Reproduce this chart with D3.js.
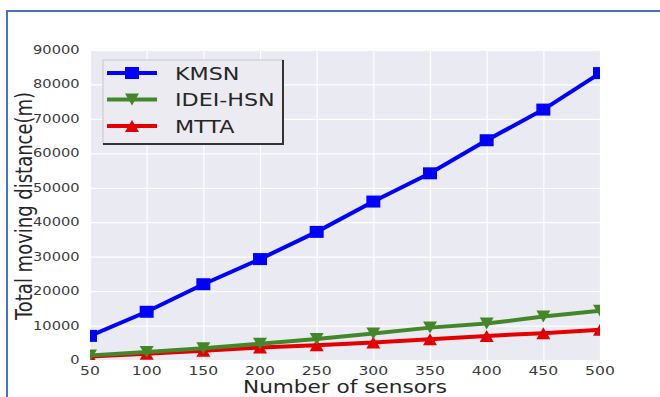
<!DOCTYPE html>
<html>
<head>
<meta charset="utf-8">
<script src="https://cdn.jsdelivr.net/npm/d3@7"></script>
<style>
  html, body { margin: 0; padding: 0; background: #fff; }
  svg { display: block; }
  text { font-family: "DejaVu Sans", sans-serif; }
</style>
</head>
<body>
<svg id="chart" width="660" height="397"></svg>
<script>
// Number of sensors on the x axis
const sensors = [50, 100, 150, 200, 250, 300, 350, 400, 450, 500];
// Total moving distance (m) for each method
const kmsn    = [7000, 14000, 22000, 29300, 37200, 46000, 54200, 63800, 72700, 83300];
const ideiHsn = [1300, 2300, 3400, 4700, 6100, 7700, 9400, 10600, 12600, 14300];
const mtta    = [1000, 1800, 2700, 3600, 4300, 5100, 6000, 7000, 7800, 8800];
const xTicks = [50, 100, 150, 200, 250, 300, 350, 400, 450, 500];
const yTicks = [0, 10000, 20000, 30000, 40000, 50000, 60000, 70000, 80000, 90000];

const series = [
  { name: "KMSN",     values: kmsn,    color: "#0000ff", marker: "square" },
  { name: "IDEI-HSN", values: ideiHsn, color: "#44872a", marker: "tri-down" },
  { name: "MTTA",     values: mtta,    color: "#e40000", marker: "tri-up" }
];

const svg = d3.select("#chart");
const plot = { left: 90, top: 50, right: 600, bottom: 360 };
const SX = 1.27; // horizontal stretch of the whole figure

const x = d3.scaleLinear().domain([50, 500]).range([plot.left, plot.right]);
const y = d3.scaleLinear().domain([0, 90000]).range([plot.bottom, plot.top]);

// page frame
svg.append("path")
  .attr("d", `M7,397 L7,11 L660,11`)
  .attr("fill", "none").attr("stroke", "#4472c4").attr("stroke-width", 2);

// plot background
svg.append("rect")
  .attr("x", plot.left).attr("y", plot.top)
  .attr("width", plot.right - plot.left).attr("height", plot.bottom - plot.top)
  .attr("fill", "#eaeaf2");

// grid via axes
const gx = svg.append("g").attr("transform", `translate(0,${plot.bottom})`)
  .call(d3.axisBottom(x).tickValues(xTicks).tickSize(-(plot.bottom - plot.top)).tickFormat(""));
const gy = svg.append("g").attr("transform", `translate(${plot.left},0)`)
  .call(d3.axisLeft(y).tickValues(yTicks).tickSize(-(plot.right - plot.left)).tickFormat(""));
[gx, gy].forEach(g => {
  g.select(".domain").remove();
  g.selectAll(".tick line").attr("stroke", "#ffffff").attr("stroke-width", 1.2);
});

// tick labels (stretched horizontally)
function stretchedText(g, tx, ty, str, opts) {
  return g.append("text")
    .attr("transform", `translate(${tx},${ty}) scale(${SX},1)`)
    .attr("text-anchor", opts.anchor || "middle")
    .attr("font-size", opts.size)
    .attr("fill", opts.fill || "#333")
    .text(str);
}
const labels = svg.append("g");
gx.selectAll(".tick").each(function(d) {
  stretchedText(labels, x(d), 374.5, d3.format("d")(d), { size: 12.3, fill: "#3a3a3a" });
});
gy.selectAll(".tick").each(function(d) {
  stretchedText(labels, 79.5, y(d) + 4, d3.format("d")(d), { size: 11.5, anchor: "end", fill: "#3a3a3a" });
});

// axis titles
stretchedText(svg, 345, 393, "Number of sensors", { size: 17, fill: "#262626" });
svg.append("text")
  .attr("transform", `translate(32,206) rotate(-90) scale(1,${SX})`)
  .attr("text-anchor", "middle")
  .attr("font-size", 18).attr("fill", "#262626")
  .text("Total moving distance(m)");

// markers
function markerPath(type) {
  const w = 7, h = 6;
  if (type === "square") return `M${-w},${-h}H${w}V${h}H${-w}Z`;
  if (type === "tri-down") return `M${-w},${-h}H${w}L0,${h}Z`;
  return `M${-w},${h}H${w}L0,${-h}Z`;
}

// series lines, clipped to the plot area
svg.append("clipPath").attr("id", "plotClip")
  .append("rect")
  .attr("x", plot.left).attr("y", plot.top)
  .attr("width", plot.right - plot.left).attr("height", plot.bottom - plot.top);

const lineGen = d3.line().x((d, i) => x(sensors[i])).y(d => y(d));
const lines = svg.append("g").attr("clip-path", "url(#plotClip)");
series.slice().reverse().forEach(s => {
  lines.append("path")
    .attr("d", lineGen(s.values))
    .attr("fill", "none").attr("stroke", s.color).attr("stroke-width", 4)
    .attr("stroke-linejoin", "round");
  lines.selectAll(null).data(s.values).enter().append("path")
    .attr("d", markerPath(s.marker))
    .attr("transform", (d, i) => `translate(${x(sensors[i])},${y(d)})`)
    .attr("fill", s.color);
});

// legend
const lg = svg.append("g");
lg.append("rect")
  .attr("x", 103).attr("y", 60).attr("width", 180).attr("height", 84)
  .attr("fill", "#ebebf1").attr("stroke", "#c8c8cc").attr("stroke-width", 1);
lg.append("path")
  .attr("d", "M283,60 V144 H103")
  .attr("fill", "none").attr("stroke", "#333").attr("stroke-width", 2);
series.forEach((s, i) => {
  const ly = 73 + i * 26.5;
  lg.append("line")
    .attr("x1", 107).attr("x2", 157).attr("y1", ly).attr("y2", ly)
    .attr("stroke", s.color).attr("stroke-width", 4);
  lg.append("path")
    .attr("d", markerPath(s.marker))
    .attr("transform", `translate(132,${ly})`)
    .attr("fill", s.color);
  stretchedText(lg, 175, ly + 6.5, s.name, { size: 17.5, anchor: "start", fill: "#262626" });
});
</script>
</body>
</html>
